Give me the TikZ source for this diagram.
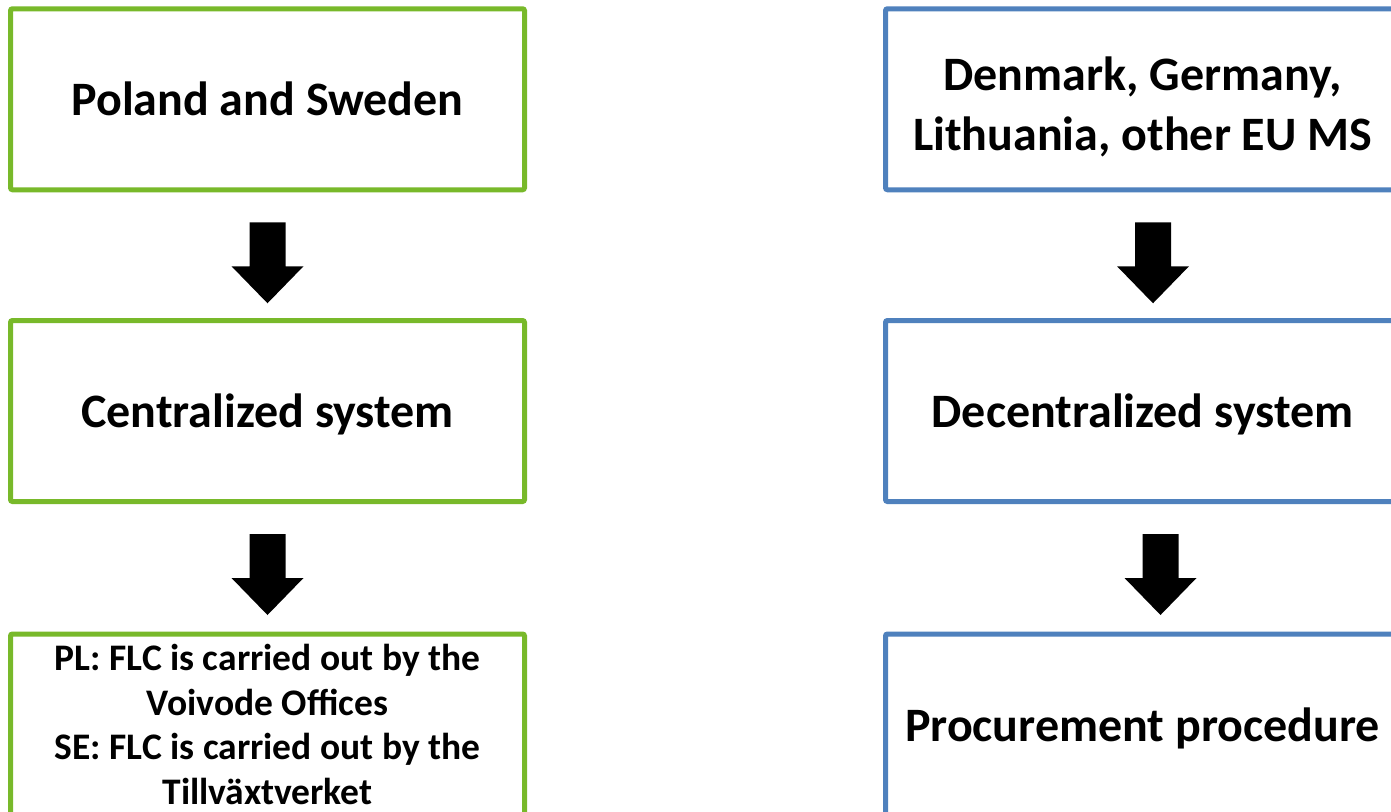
\documentclass[tikz,border=0pt]{standalone}
\usepackage{fontspec}
\setmainfont{Carlito}
\usetikzlibrary{calc}
\definecolor{boxgreen}{RGB}{120,185,42}
\definecolor{boxblue}{RGB}{79,129,189}
\begin{document}
\begin{tikzpicture}[x=1pt,y=-1pt,
  box/.style={draw, line width=5pt, fill=white, rounded corners=2pt,
    minimum width=514pt, minimum height=181pt, inner sep=0pt,
    align=center, font=\bfseries\fontsize{48}{60}\selectfont},
  oneline/.style={text height=33pt, text depth=0pt},
  twoline/.style={text height=102pt, text depth=0pt},
  smalltext/.style={font=\bfseries\fontsize{37.5}{44.5}\selectfont},
  greenbox/.style={box, draw=boxgreen},
  bluebox/.style={box, draw=boxblue},
  pics/downarrow/.style={code={
    \fill[black] (-18,0) -- (18,0) -- (18,44) -- (36,44) -- (0,81)
      -- (-36,44) -- (-18,44) -- cycle;}}]
  \clip (0,0) rectangle (1391,811);
  \fill[white] (0,0) rectangle (1391,811);

  % left column
  \node[greenbox, oneline] (l1) at (267.5,99.25) {Poland and Sweden};
  \node[greenbox, oneline] (l2) at (267.5,411) {Centralized system};
  \node[greenbox, smalltext] (l3) at (267.5,724.5)
    {PL: FLC is carried out by the\\Voivode Offices\\SE: FLC is carried out by the\\Tillväxtverket};

  % right column
  \node[bluebox, twoline] (r1) at (1142.5,99.25) {Denmark, Germany,\\Lithuania, other EU MS};
  \node[bluebox, oneline] (r2) at (1142.5,411) {Decentralized system};
  \node[bluebox, oneline] (r3) at (1142.5,724.5) {Procurement procedure};

  % block arrows between the stages
  \pic at ($(l1.south)+(0,30)$) {downarrow};
  \pic at ($(l2.south)+(0,30)$) {downarrow};
  \pic at ($(r1.south)+(10.5,30)$) {downarrow};
  \pic at ($(r2.south)+(18,30)$) {downarrow};
\end{tikzpicture}
\end{document}
